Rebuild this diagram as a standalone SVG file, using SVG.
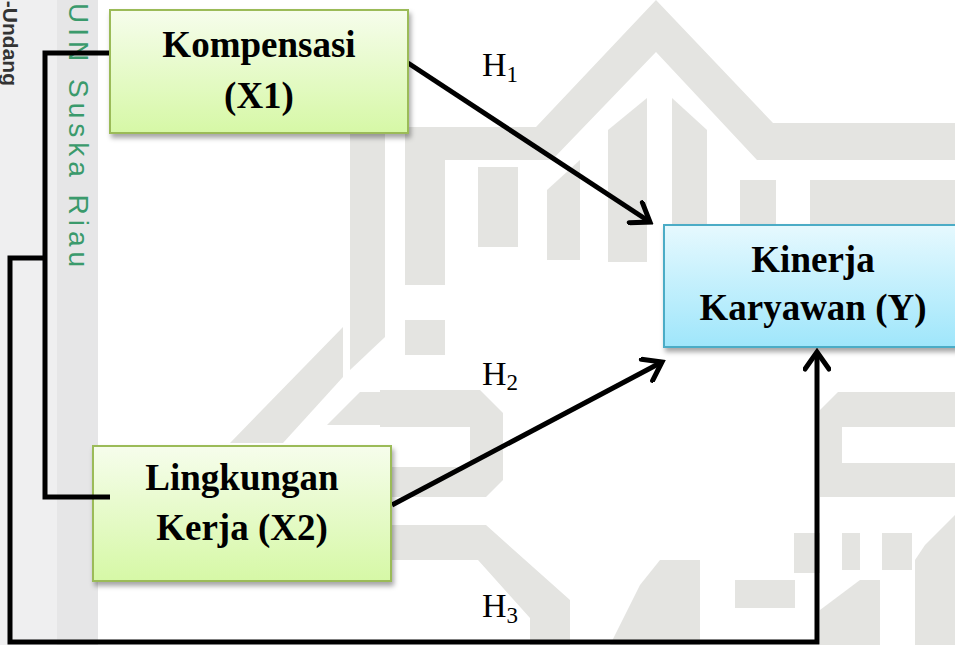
<svg xmlns="http://www.w3.org/2000/svg" width="955" height="645" viewBox="0 0 955 645">
<style>
.wm{fill:#e4e4e1}
.box-t{font-family:"Liberation Serif","Times New Roman",serif;font-weight:bold;font-size:37px;fill:#000;text-anchor:middle}
.h{font-family:"Liberation Serif","Times New Roman",serif;font-size:34px;fill:#000}
.sub{font-size:23px}
.conn{fill:none;stroke:#000;stroke-width:5;stroke-linejoin:miter}
</style>
<defs>
<linearGradient id="gG" x1="0" y1="0" x2="0" y2="1">
<stop offset="0" stop-color="#f6fdec"/>
<stop offset="1" stop-color="#d6f8a6"/>
</linearGradient>
<linearGradient id="gB" x1="0" y1="0" x2="0" y2="1">
<stop offset="0" stop-color="#e6f9fe"/>
<stop offset="1" stop-color="#9fe6fb"/>
</linearGradient>
<filter id="sh" x="-10%" y="-10%" width="125%" height="130%">
<feDropShadow dx="2" dy="4" stdDeviation="2.5" flood-color="#000" flood-opacity="0.35"/>
</filter>
<marker id="arr" markerUnits="userSpaceOnUse" viewBox="-22 -14 26 28" refX="0" refY="0" markerWidth="26" markerHeight="28" orient="auto">
<path d="M-17,-12 L0,0 L-17,12" fill="none" stroke="#000" stroke-width="5" stroke-linecap="round" stroke-linejoin="miter"/>
</marker>
</defs>

<rect width="955" height="645" fill="#ffffff"/>

<g id="watermark">
<rect x="0" y="0" width="57" height="645" fill="#efeff0"/>
<rect x="57" y="0" width="41" height="645" fill="#e6e6e7"/>
<text transform="translate(69,0) rotate(90)" x="3" y="0" font-family="Liberation Sans, Arial, sans-serif" font-size="28" letter-spacing="5" fill="#3a9a6c">UIN Suska Riau</text>
<text transform="translate(3,0) rotate(90)" x="86" y="0" text-anchor="end" font-family="Liberation Sans, Arial, sans-serif" font-weight="bold" font-size="21" fill="#333333">-Undang</text>
<polygon class="wm" points="405,127 536,127 656,0 773,123 955,123 955,160 757,160 656,52 552,160 405,160"/>
<rect class="wm" x="405" y="160" width="40" height="125"/>
<rect class="wm" x="405" y="320" width="40" height="35"/>
<rect class="wm" x="478" y="167" width="40" height="80"/>
<polygon class="wm" points="547,190 580,160 580,260 547,260"/>
<polygon class="wm" points="608,130 647,98 647,262 608,262"/>
<polygon class="wm" points="672,98 707,130 707,225 672,225"/>
<rect class="wm" x="740" y="180" width="36" height="45"/>
<rect class="wm" x="810" y="180" width="145" height="45"/>
<polygon class="wm" points="350,133 385,133 385,337 350,370"/>
<polygon class="wm" points="230,443 343,327 343,377 283,443"/>
<polygon class="wm" points="360,392 420,392 420,425 327,425"/>
<path class="wm" d="M380,390 H480 L503,413 V480 L486,497 H392 V467 H470 V427 H380 Z"/>
<path class="wm" d="M838,392 H955 V427 H842 V463 H955 V497 H820 V410 Z"/>
<path class="wm" d="M392,525 H486 L570,600 V645 H530 V618 L478,560 H392 Z"/>
<rect class="wm" x="735" y="580" width="60" height="28"/>
<rect class="wm" x="794" y="533" width="26" height="40"/>
<rect class="wm" x="842" y="533" width="18" height="37"/>
<rect class="wm" x="882" y="533" width="30" height="37"/>
<polygon class="wm" points="925,545 955,515 955,645 915,645 915,560"/>
<polygon class="wm" points="640,585 660,560 700,560 700,645 610,645"/>
<polygon class="wm" points="820,610 860,580 880,580 880,645 820,645"/>
</g>

<g id="connectors">
<polyline class="conn" points="110,53 45,53 45,497 110,497"/>
<polyline class="conn" points="45,258 10,258 10,642 817,642 817,352" marker-end="url(#arr)"/>
<line class="conn" x1="408" y1="63" x2="650" y2="222" marker-end="url(#arr)"/>
<line class="conn" x1="392" y1="505" x2="662" y2="362" marker-end="url(#arr)"/>
</g>

<g id="node-x1">
<rect x="110" y="10" width="298" height="123" fill="url(#gG)" stroke="#9bbb59" stroke-width="2" filter="url(#sh)"/>
<text class="box-t" x="259" y="57">Kompensasi</text>
<text class="box-t" x="259" y="108">(X1)</text>
</g>

<g id="node-x2">
<rect x="93" y="446" width="298" height="135" fill="url(#gG)" stroke="#9bbb59" stroke-width="2" filter="url(#sh)"/>
<text class="box-t" x="242" y="490">Lingkungan</text>
<text class="box-t" x="242" y="540">Kerja (X2)</text>
</g>

<g id="node-y">
<rect x="664" y="225" width="305" height="122" fill="url(#gB)" stroke="#4bacc6" stroke-width="2" filter="url(#sh)"/>
<text class="box-t" x="813" y="272">Kinerja</text>
<text class="box-t" x="813" y="320">Karyawan (Y)</text>
</g>

<g id="bracket-over">
<line class="conn" x1="92" y1="497" x2="110" y2="497"/>
</g>

<g id="labels">
<text class="h" x="482" y="76">H<tspan class="sub" dy="6">1</tspan></text>
<text class="h" x="482" y="385">H<tspan class="sub" dy="5">2</tspan></text>
<text class="h" x="482" y="617">H<tspan class="sub" dy="6">3</tspan></text>
</g>
</svg>
